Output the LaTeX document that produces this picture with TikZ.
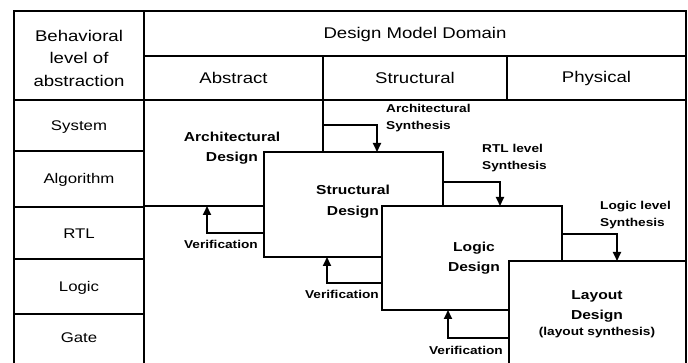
\documentclass[tikz,border=0pt]{standalone}
\usepackage{fontspec}
\setmainfont{Liberation Sans}[FakeStretch=1.2]
\usetikzlibrary{arrows.meta}
\newcommand\fsHead{\fontsize{15.5}{22.5}\selectfont}
\newcommand\fsRow{\fontsize{14}{20}\selectfont}
\newcommand\fsBox{\fontsize{13}{20.5}\selectfont\bfseries}
\newcommand\fsLab{\fontsize{11.4}{17}\selectfont\bfseries}
\begin{document}
\begin{tikzpicture}[x=1pt,y=-1pt,
  tline/.style={line width=1.8pt},
  dbox/.style={draw, fill=white, line width=1.8pt, rectangle, inner sep=0pt, outer sep=0pt},
  arr/.style={line width=1.8pt, -{Triangle[length=9pt,width=8pt]}},
  txt/.style={inner sep=0pt, align=center},
  lab/.style={inner sep=0pt, font=\fsLab},
  ]
\useasboundingbox (0,0) rectangle (688,363);
\clip (0,0) rectangle (688,363);
% table
\draw[tline] (14,372) -- (14,11) -- (686,11) -- (686,372);
\draw[tline] (144,11) -- (144,372);
\draw[tline] (144,56) -- (686,56);
\draw[tline] (14,100) -- (686,100);
\draw[tline] (323,56) -- (323,100);
\draw[tline] (507,56) -- (507,100);
\draw[tline] (14,151) -- (144,151);
\draw[tline] (14,207) -- (144,207);
\draw[tline] (14,259) -- (144,259);
\draw[tline] (14,314) -- (144,314);
% header texts
\node[txt, font=\fsHead] (beh) at (79,58) {Behavioral\\level of\\abstraction};
\node[txt, font=\fsHead] (dmd) at (415,34) {Design Model Domain};
\node[txt, font=\fsHead] (abs) at (233.5,78) {Abstract};
\node[txt, font=\fsHead] (str) at (415,78) {Structural};
\node[txt, font=\fsHead] (phy) at (596.5,78) {Physical};
% row labels
\node[txt, font=\fsRow] (rsys) at (79,127) {System};
\node[txt, font=\fsRow] (ralg) at (79,180) {Algorithm};
\node[txt, font=\fsRow] (rrtl) at (79,234) {RTL};
\node[txt, font=\fsRow] (rlog) at (79,288) {Logic};
\node[txt, font=\fsRow] (rgat) at (79,338) {Gate};
% design boxes
\node[dbox, minimum width=179pt, minimum height=106pt] (arch) at (233.5,153) {};
\node[txt, font=\fsBox] (archT) at (232,148) {Architectural\\Design};
\node[dbox, minimum width=179pt, minimum height=105pt] (struct) at (353.5,204.5) {};
\node[txt, font=\fsBox] (structT) at (353,201.5) {Structural\\Design};
\node[dbox, minimum width=180pt, minimum height=104pt] (logic) at (472,258) {};
\node[txt, font=\fsBox] (logicT) at (474,258) {Logic\\Design};
\node[dbox, minimum width=177pt, minimum height=112pt] (layout) at (597.5,317) {};
\node[txt, font=\fsBox] (layoutT) at (597,314) {Layout\\Design\\[-5pt]{\fsLab (layout synthesis)}};
% synthesis arrows
\draw[arr] (arch.east |- 0,125) -| (struct.north -| 377,0);
\node[lab, anchor=west, align=left] (asyn) at (386,118.5) {Architectural\\Synthesis};
\draw[arr] (struct.east |- 0,182) -| (logic.north -| 500,0);
\node[lab, anchor=west, align=left] (rsyn) at (482,158.5) {RTL level\\Synthesis};
\draw[arr] (logic.east |- 0,234) -| (layout.north -| 617,0);
\node[lab, anchor=west, align=left] (lsyn) at (600,215.5) {Logic level\\Synthesis};
% verification arrows
\draw[arr] (struct.west |- 0,233) -| (arch.south -| 207,0);
\node[lab, anchor=east] (ver1) at (258,244) {Verification};
\draw[arr] (logic.west |- 0,283) -| (struct.south -| 327,0);
\node[lab, anchor=east] (ver2) at (379,294) {Verification};
\draw[arr] (layout.west |- 0,338) -| (logic.south -| 448,0);
\node[lab, anchor=east] (ver3) at (503,350) {Verification};
\end{tikzpicture}
\end{document}
